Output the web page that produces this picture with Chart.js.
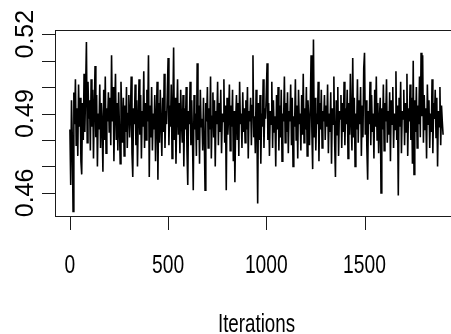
<!DOCTYPE html>
<html>
<head>
<meta charset="utf-8">
<title>Trace</title>
<script src="https://cdn.jsdelivr.net/npm/chart.js@4.4.1/dist/chart.umd.min.js"></script>
<style>
  html, body { margin: 0; padding: 0; background: #fff; overflow: hidden; }
  canvas { display: block; }
</style>
</head>
<body>
<canvas id="traceChart" width="460" height="334"></canvas>
<script>
// one stored sample every 4 iterations
const iterStep = 4;
const trace = [
  .484,.463,.495,.481,.453,.498,.486,.503,.478,.492,.474,.501,.485,.496,.472,.467,.494,.480,.505,.483,.499,.517,.479,.502,.488,
  .495,.476,.503,.485,.499,.473,.492,.508,.481,.497,.470,.490,.484,.501,.477,.494,.486,.468,.499,.480,.504,.475,.492,.487,.498,
  .483,.496,.478,.512,.487,.500,.472,.491,.505,.480,.494,.476,.498,.485,.471,.502,.489,.479,.496,.474,.493,.483,.500,.477,.490,
  .497,.481,.489,.504,.475,.466,.492,.486,.501,.478,.495,.470,.488,.503,.482,.497,.473,.491,.485,.506,.477,.494,.480,.499,.487,
  .512,.466,.493,.481,.500,.476,.490,.484,.497,.472,.488,.502,.465,.494,.479,.499,.486,.474,.496,.483,.505,.477,.491,.486,.498,
  .511,.478,.493,.485,.501,.473,.490,.515,.480,.496,.471,.489,.503,.482,.494,.475,.499,.487,.479,.497,.470,.492,.484,.500,.476,
  .463,.491,.486,.502,.478,.495,.481,.461,.497,.484,.490,.474,.509,.480,.493,.471,.499,.485,.488,.476,.496,.482,.461,.494,.487,
  .500,.477,.492,.484,.504,.473,.489,.498,.481,.495,.470,.491,.486,.502,.478,.494,.483,.499,.475,.490,.487,.503,.479,.493,.461,
  .496,.482,.489,.501,.476,.493,.485,.499,.472,.491,.464,.487,.497,.480,.494,.474,.502,.486,.490,.477,.498,.483,.492,.479,.495,
  .484,.500,.473,.491,.487,.496,.478,.493,.512,.481,.489,.475,.499,.486,.456,.494,.480,.497,.471,.490,.485,.503,.477,.492,.488,
  .498,.509,.480,.494,.474,.491,.486,.502,.477,.495,.483,.489,.470,.497,.484,.500,.476,.493,.481,.499,.472,.490,.487,.504,.479,
  .494,.483,.498,.475,.491,.487,.501,.478,.496,.470,.489,.485,.503,.480,.493,.473,.499,.486,.490,.476,.497,.482,.505,.479,.492,
  .484,.500,.474,.495,.488,.478,.493,.512,.483,.469,.518,.481,.496,.476,.490,.486,.502,.472,.494,.484,.499,.477,.491,.487,.497,
  .480,.493,.485,.501,.475,.490,.483,.498,.471,.492,.486,.504,.479,.466,.495,.482,.500,.474,.491,.488,.497,.477,.494,.483,.502,
  .478,.492,.486,.499,.473,.494,.482,.505,.487,.476,.511,.481,.496,.470,.490,.484,.503,.479,.495,.486,.500,.474,.493,.481,.507,
  .513,.482,.495,.477,.465,.491,.486,.502,.478,.497,.483,.490,.473,.499,.485,.504,.480,.494,.475,.488,.496,.460,.492,.484,.501,
  .476,.494,.487,.503,.479,.491,.482,.498,.472,.495,.486,.500,.477,.490,.484,.506,.480,.493,.459,.496,.485,.502,.475,.491,.488,
  .499,.478,.494,.483,.505,.474,.492,.487,.501,.480,.496,.471,.510,.467,.495,.483,.500,.477,.493,.486,.504,.481,.513,.489,.512,
  .479,.497,.484,.492,.473,.501,.486,.495,.477,.490,.483,.503,.475,.494,.488,.499,.481,.496,.470,.491,.485,.500,.478,.493,.487,
  .482
];
const xTicks = [0, 500, 1000, 1500];
const yTicks = [0.46, 0.47, 0.48, 0.49, 0.50, 0.51, 0.52];
const yTickLabels = ['0.46', '', '', '0.49', '', '', '0.52'];
const xTitle = 'Iterations';

const FONT = '"Liberation Sans", Arial, Helvetica, sans-serif';

// R style box, ticks and labels (horizontal text is drawn narrow like the original)
const rAxes = {
  id: 'rAxes',
  afterDraw(chart) {
    const { ctx, chartArea: a, scales: { x, y } } = chart;
    ctx.save();
    ctx.strokeStyle = '#1a1a1a';
    ctx.fillStyle = '#000';
    ctx.lineWidth = 1;
    ctx.strokeRect(a.left + 0.5, a.top - 0.5, a.right - a.left, a.bottom - a.top);

    ctx.beginPath();
    xTicks.forEach(v => {
      const px = Math.round(x.getPixelForValue(v)) + 0.5;
      ctx.moveTo(px, a.bottom - 0.5);
      ctx.lineTo(px, a.bottom + 13);
    });
    yTicks.forEach(v => {
      const py = Math.round(y.getPixelForValue(v)) + 0.5;
      ctx.moveTo(a.left + 0.5, py);
      ctx.lineTo(a.left - 13, py);
    });
    ctx.stroke();

    ctx.font = '25px ' + FONT;
    ctx.textAlign = 'center';
    ctx.textBaseline = 'alphabetic';
    xTicks.forEach(v => {
      ctx.save();
      ctx.translate(x.getPixelForValue(v), 273);
      ctx.scale(0.77, 1);
      ctx.fillText(String(v), 0, 0);
      ctx.restore();
    });

    yTicks.forEach((v, i) => {
      if (!yTickLabels[i]) return;
      ctx.save();
      ctx.translate(33, y.getPixelForValue(v));
      ctx.rotate(-Math.PI / 2);
      ctx.fillText(yTickLabels[i], 0, 0);
      ctx.restore();
    });

    ctx.save();
    ctx.translate((a.left + a.right) / 2, 332);
    ctx.scale(0.75, 1);
    ctx.fillText(xTitle, 0, 0);
    ctx.restore();
    ctx.restore();
  }
};

new Chart(document.getElementById('traceChart'), {
  type: 'line',
  data: {
    datasets: [{
      data: trace.map((v, i) => ({ x: i * iterStep, y: v })),
      borderColor: '#000',
      borderWidth: 1.6,
      pointRadius: 0,
      tension: 0,
      fill: false
    }]
  },
  options: {
    responsive: false,
    animation: false,
    layout: { padding: { left: 55, top: 31, right: 2, bottom: 117 } },
    plugins: { legend: { display: false }, tooltip: { enabled: false } },
    scales: {
      x: { type: 'linear', display: false, min: -76, max: 1976 },
      y: { display: false, min: 0.4509, max: 0.5212 }
    }
  },
  plugins: [rAxes]
});
</script>
</body>
</html>
